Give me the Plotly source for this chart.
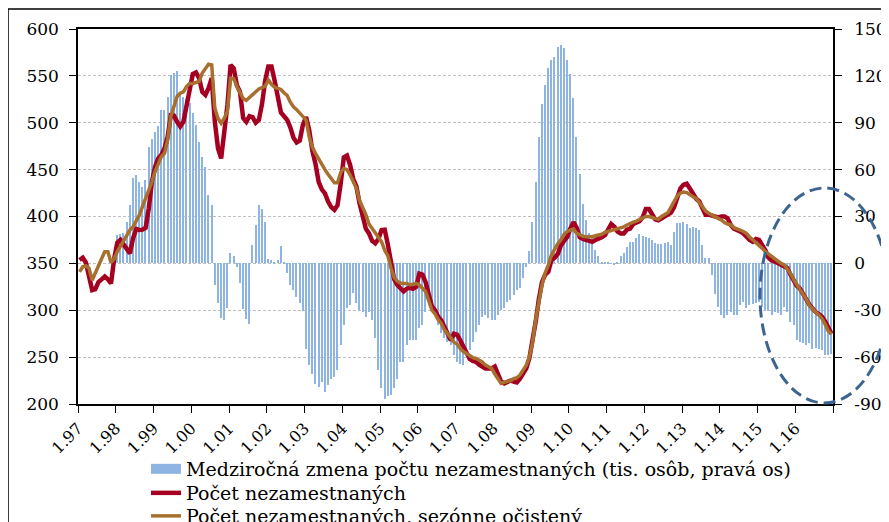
import plotly.graph_objects as go

# ---------------- data ----------------
year_labels = ['1.97', '1.98', '1.99', '1.00', '1.01', '1.02', '1.03', '1.04', '1.05', '1.06',
               '1.07', '1.08', '1.09', '1.10', '1.11', '1.12', '1.13', '1.14', '1.15', '1.16']

right_ticks = [-90, -60, -30, 0, 30, 60, 90, 120, 150]
right_tick_labels = ['-90', '-60', '-30', '0', '30', '60', '90', '120', '150']

months = list(range(240))  # month index, 0 = Jan 1997

# Počet nezamestnaných (tis.)
unemployed = [
    353.6, 356, 351, 334, 321.5, 322.6, 330, 333, 336, 333, 328.6, 355,          # 1997
    372, 375, 369.6, 366, 360.7, 376.7, 386.7, 385.6, 386, 388, 408.7, 437,       # 1998
    453, 462, 465.7, 472.8, 485, 508, 507.7, 501, 496, 501, 519, 533,             # 1999
    552, 553.6, 547.5, 533, 529.7, 536.8, 547.5, 501, 472.8, 462, 487, 519,       # 2000
    561.7, 558, 540, 533, 505, 501, 507, 506, 500, 503, 520, 545,                 # 2001
    560, 560, 545, 525, 511, 507, 503, 495, 484, 479, 481, 498,                   # 2002
    506, 492, 470, 456, 437, 429, 424.7, 416, 410, 407, 412, 435,                 # 2003
    463, 465, 455, 440, 432, 414, 401, 387, 382, 374, 371.4, 376,                 # 2004
    385.6, 386, 370, 350, 333, 327, 324, 320, 323, 324, 323, 325,                 # 2005
    339, 338, 330, 315, 304, 300, 293, 289, 281, 274, 268, 275,                   # 2006
    274, 268, 262, 254, 248, 246, 245, 242, 240, 238, 238, 238,                   # 2007
    240, 232, 224, 222, 224, 225, 224, 223, 227, 233, 238, 249,                   # 2008
    266, 288, 312, 330, 338, 341, 353.6, 356, 360, 369, 374, 378,                 # 2009
    387, 394, 388, 378, 376, 375, 373, 373, 375, 376, 378, 380,                   # 2010
    387, 392, 389, 384, 382, 382, 386, 387, 392, 394, 395, 399,                   # 2011
    408, 408, 403, 397, 396, 398, 400, 402, 404, 410, 419, 430,                   # 2012
    434, 435, 430, 424, 419, 416, 409, 402, 402, 401, 399, 399,                   # 2013
    400, 400, 398, 391, 387, 386, 384, 382, 378, 375, 373, 376,                   # 2014
    375, 370, 364, 356, 353, 352, 350, 349, 347, 345, 338, 332,                   # 2015
    326, 323, 317, 313, 306, 302, 298, 296, 293, 288, 280, 275,                   # 2016
]

# Počet nezamestnaných, sezónne očistený (tis.)
unemployed_sa = [
    341, 346.4, 347.5, 344.7, 332, 339, 348, 355, 362.5, 362.5, 351, 355,
    362.5, 368, 373, 378.5, 385.6, 389, 394.5, 401.6, 410.5, 419, 426.5, 437,
    448, 456.8, 463.9, 467.4, 481.7, 506.6, 519, 528, 531.5, 533, 538.6, 542,
    542, 543, 544, 553, 558, 562.5, 561.7, 515.5, 504.8, 499.5, 504.8, 512,
    547.5, 547, 538.6, 532, 526, 524, 527, 530, 533, 536, 537.5, 539,
    545.7, 541, 538, 536.8, 535.5, 532, 529, 522, 517, 514, 510, 507,
    503, 485, 474, 467.4, 461, 455, 450, 445, 441, 436, 436, 447,
    451.4, 450, 444.3, 436, 430, 417, 410, 402, 392, 387, 382, 377,
    373, 364, 358, 345, 335, 331, 329, 328.6, 328.6, 327, 328, 328.6,
    327, 324, 320, 310, 300, 296, 290, 286, 279, 275, 270, 266,
    264, 259, 256, 254, 251, 249.5, 248.6, 247, 245, 241.5, 240, 238,
    232, 227, 222, 223, 224, 225, 227, 228, 231, 236, 241.5, 250,
    266, 290, 310, 327, 340, 348.2, 358.9, 366, 371, 375, 381, 384,
    385.6, 386.7, 382, 380, 379, 378.5, 378.5, 378.5, 379.5, 380, 381, 383,
    384, 384.5, 386, 387, 388, 389, 391, 393, 394, 395, 397, 398,
    400, 400, 399, 398, 397, 400, 402, 404, 410, 416, 422, 425,
    426, 425.5, 423, 421, 419.4, 415, 410, 406, 403.5, 402, 400, 398,
    396.3, 393.5, 392, 391, 388, 387, 385.6, 384, 382, 378, 375, 372,
    370, 366, 362.5, 360, 357, 354.6, 352, 350, 348.5, 344, 339, 333,
    327, 322, 317, 312, 305, 301, 298, 295, 291, 285, 278, 274.5,
]

# Medziročná zmena počtu nezamestnaných (tis. osôb, pravá os)
yoy_change = [None] * 12 + [
    18, 18.6, 19.5, 26.7, 37.4, 54.5, 56.6, 52.3, 48.7, 53.4, 74.3, 79.6,                       # 1998
    83.9, 88.2, 98.2, 98.2, 106.8, 120.6, 121.7, 123.2, 110, 106.8, 105.3, 102.5,             # 1999
    96, 88.6, 77.5, 68.3, 62, 43.8, 37.4, -13.9, -25.2, -34.8, -36.3, -28.4,                  # 2000
    6.8, 4.9, -2, -12.8, -29, -35.4, -38.6, 11.7, 24.6, 37.4, 35, 26.7,                       # 2001
    2.6, 2.1, 1.1, 2.1, 11.2, 1.1, -6.2, -13.9, -17, -21.4, -25.6, -30.5,                     # 2002
    -54.5, -65, -70.5, -77, -79, -75.8, -82, -78, -73.7, -72.6, -68.3, -52.3,                 # 2003
    -39.5, -28.8, -26.7, -19.2, -25.6, -30, -31, -34.2, -31, -36.3, -48, -68.3,               # 2004
    -80, -86.5, -85, -84, -80, -73.7, -63, -63, -52.3, -49, -49, -49,                         # 2005
    -41.6, -39.5, -31, -22.4, -24.6, -33.1, -39.5, -44.8, -48, -50.2, -52.3, -58.7,           # 2006
    -63, -64.1, -65.1, -58.7, -55.5, -50.2, -43.8, -39.5, -34.2, -33.1, -35.2, -36.3,         # 2007
    -36.3, -33.1, -29.9, -28.8, -24.6, -23.5, -20.3, -17, -16, -9.6, -2, 7.9,                 # 2008
    26.7, 52.3, 81.1, 101.9, 114.2, 125.3, 130.3, 132, 138.8, 139.9, 137.7, 130.3,            # 2009
    121, 105.7, 81.1, 57, 37.8, 27.8, 19.2, 17.1, 8.5, 4.9, 1.1, 1.1,                         # 2010
    0.6, 0.2, -1, 1, 4.9, 6.4, 10.7, 13.5, 13.5, 16, 18.6, 17.7,                              # 2011
    16.9, 16, 15, 12.8, 12.2, 12.2, 12.8, 13.9, 11.7, 20.3, 25.6, 25.6,                       # 2012
    26.7, 25, 22.8, 23.5, 22.4, 21.6, 11.7, 3.6, 3.6, -7.5, -19.9, -27.8,                     # 2013
    -33.1, -35.2, -33.1, -31.4, -33.1, -33.1, -26.7, -24.6, -28.4, -26.7, -26.3, -25.2,       # 2014
    -24.6, -27.8, -29.9, -30.5, -33.1, -31, -32, -33.1, -27.8, -31.4, -37.4, -39.5,           # 2015
    -49, -50.2, -51.2, -52.3, -51.2, -54.5, -54, -54.5, -55.5, -58.7, -58.7, -57.7,           # 2016
]

series_names = [
    'Medziročná zmena počtu nezamestnaných (tis. osôb, pravá os)',
    'Počet nezamestnaných',
    'Počet nezamestnaných, sezónne očistený',
]

# ---------------- styling ----------------
FONT = 'DejaVu Serif'
BAR_COLOR = '#8DB4E2'
RED = '#A50021'
BROWN = '#A8702F'

fig = go.Figure()

fig.add_trace(go.Bar(
    x=months, y=yoy_change, yaxis='y', name=series_names[0],
    marker=dict(color=BAR_COLOR, line=dict(width=0)),
    width=0.42, showlegend=False,
))
# legend entry for the bars (wide swatch, as in the original)
fig.add_trace(go.Scatter(
    x=[None], y=[None], yaxis='y', mode='lines', name=series_names[0],
    line=dict(color=BAR_COLOR, width=10), legend='legend',
))
fig.add_trace(go.Scatter(
    x=months, y=unemployed, yaxis='y2', mode='lines', name=series_names[1],
    line=dict(color=RED, width=4.5), legend='legend2',
))
fig.add_trace(go.Scatter(
    x=months, y=unemployed_sa, yaxis='y2', mode='lines', name=series_names[2],
    line=dict(color=BROWN, width=3.5), legend='legend3',
))

tickfont = dict(family=FONT, size=17, color='black')
legend_font = dict(family=FONT, size=19, color='black')
legend_common = dict(orientation='v', xref='paper', yref='container',
                     x=0.0901, xanchor='left', yanchor='top',
                     font=legend_font, bgcolor='rgba(0,0,0,0)', itemwidth=30)

fig.update_layout(
    width=881, height=514,
    margin=dict(l=70, r=56, t=21, b=118),
    paper_bgcolor='white', plot_bgcolor='white',
    bargap=0,
    xaxis=dict(
        range=[-0.5, 239.5],
        tickvals=[-0.5 + 12 * k for k in range(21)],
        ticktext=year_labels + [''],
        tickangle=-45, ticks='outside', ticklen=7, tickcolor='black', tickwidth=1,
        showline=True, linecolor='black', linewidth=1.5, mirror=True,
        showgrid=False, zeroline=False, tickfont=dict(family=FONT, size=16, color='black'),
        automargin=False,
    ),
    yaxis=dict(
        range=[-90, 150], tickvals=right_ticks, ticktext=right_tick_labels, side='right',
        ticks='outside', ticklen=7, tickcolor='black',
        showline=True, linecolor='black', linewidth=1.5,
        showgrid=True, gridcolor='#BFBFBF', griddash='3px,2px', gridwidth=1,
        zeroline=False, tickfont=tickfont, ticklabelstandoff=9, automargin=False,
    ),
    yaxis2=dict(
        range=[200, 600], tick0=200, dtick=50, side='left', overlaying='y',
        ticks='outside', ticklen=7, tickcolor='black',
        showline=True, linecolor='black', linewidth=1.5,
        showgrid=False, zeroline=False, tickfont=tickfont, ticklabelstandoff=7,
        automargin=False,
    ),
    legend=dict(legend_common, y=0.1401),
    legend2=dict(legend_common, y=0.0934),
    legend3=dict(legend_common, y=0.0486),
    shapes=[
        # dashed ellipse highlighting the latest period
        dict(type='circle', xref='paper', yref='paper',
             x0=0.9033, x1=1.0742, y0=0.0027, y1=0.576,
             line=dict(color='#3C6491', width=3, dash='12px,6px')),
        # outer chart frame
        dict(type='rect', xref='paper', yref='paper',
             x0=-0.0927, x1=1.09, y0=-0.37, y1=1.0533,
             line=dict(color='black', width=1.5)),
    ],
)

fig.write_html('out.html')
